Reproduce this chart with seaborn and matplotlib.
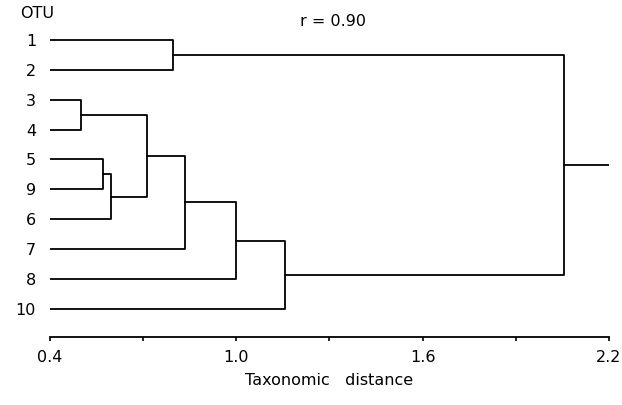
import matplotlib
matplotlib.use("Agg")
import matplotlib.pyplot as plt
import seaborn as sns
import pandas as pd
import numpy as np

# Data
leaf_labels = ["1", "2", "3", "4", "5", "9", "6", "7", "8", "10"]
# merges: (left node, right node, distance); nodes named by leaf label or merge index "m#"
merge_left = ["1", "3", "5", "m2", "m1", "m4", "m5", "m6", "m0"]
merge_right = ["2", "4", "9", "6", "m3", "7", "8", "10", "m7"]
merge_height = [0.795, 0.50, 0.57, 0.595, 0.712, 0.835, 1.0, 1.157, 2.055]
root_end = 2.2
leaf_start = 0.4
tick_values = [0.4, 0.7, 1.0, 1.3, 1.6, 1.9, 2.2]
tick_labels = ["0.4", "", "1.0", "", "1.6", "", "2.2"]
corr_text = "r = 0.90"

sns.set_theme(style="white")
plt.rcParams["font.family"] = ["DejaVu Sans"]
plt.rcParams["text.color"] = "black"
plt.rcParams["xtick.color"] = "black"
plt.rcParams["ytick.color"] = "black"
plt.rcParams["axes.labelcolor"] = "black"

# Build segments
pos = {lab: (leaf_start, i) for i, lab in enumerate(leaf_labels)}
rows = []
seg = 0
for k, (l, r, h) in enumerate(zip(merge_left, merge_right, merge_height)):
    xl, yl = pos[l]
    xr, yr = pos[r]
    for (x, y) in [(xl, yl), (h, yl), (h, yr), (xr, yr)]:
        rows.append({"x": x, "y": y, "seg": seg})
    seg += 1
    pos[f"m{k}"] = (h, (yl + yr) / 2)
rx, ry = pos[f"m{len(merge_height)-1}"]
rows.append({"x": rx, "y": ry, "seg": seg})
rows.append({"x": root_end, "y": ry, "seg": seg})
df = pd.DataFrame(rows)

fig = plt.figure(figsize=(6.22, 4.05), dpi=100)
ax = fig.add_axes([50/622, 68/405, (609-50)/622, (405-68-13)/405])
sns.lineplot(data=df, x="x", y="y", units="seg", estimator=None, sort=False,
             color="black", lw=1.3, ax=ax, legend=False)

ax.set_xlim(0.4, 2.2)
ax.set_ylim(9.94, -0.9)
ax.set_xticks(tick_values)
ax.set_xticklabels(tick_labels, fontsize=11.5)
ax.set_yticks(range(len(leaf_labels)))
ax.set_yticklabels(leaf_labels, fontsize=11.5)
ax.tick_params(axis="y", left=False, length=0, pad=10)
ax.tick_params(axis="x", bottom=True, direction="out", length=3, width=1.2,
               color="black", pad=6)
for s in ["top", "right", "left"]:
    ax.spines[s].set_visible(False)
ax.spines["bottom"].set_color("black")
ax.spines["bottom"].set_linewidth(1.3)
ax.set_xlabel("Taxonomic   distance", fontsize=11.5, labelpad=6)
ax.set_ylabel("")
fig.text(20/622, 1 - 14/405, "OTU", fontsize=11.5, ha="left", va="center")
fig.text(300/622, 1 - 22/405, corr_text, fontsize=11.5, ha="left", va="center")

fig.savefig("out.png", dpi=100)
